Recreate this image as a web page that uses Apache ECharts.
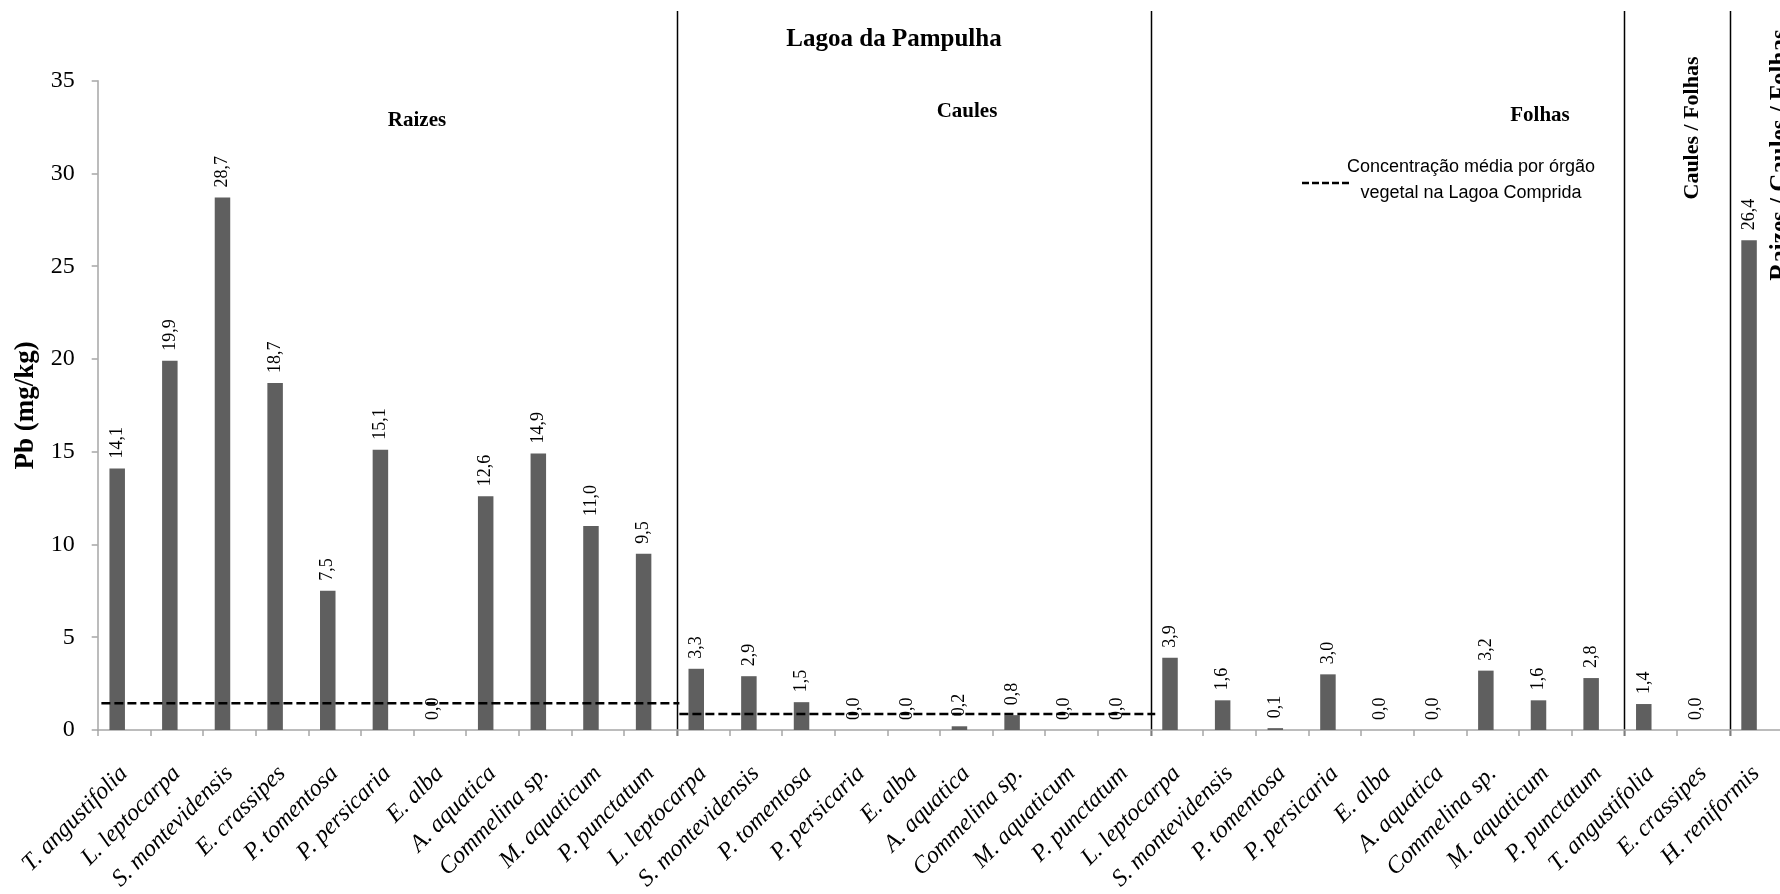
<!DOCTYPE html>
<html>
<head>
<meta charset="utf-8">
<script src="https://cdn.jsdelivr.net/npm/echarts@6/dist/echarts.min.js"></script>
<style>
html,body{margin:0;padding:0;background:#fff;}
#chart{width:1780px;height:894px;}
</style>
</head>
<body>
<div id="chart"></div>
<script>
// ---- data ----
const categories = [
  'T. angustifolia','L. leptocarpa','S. montevidensis','E. crassipes','P. tomentosa','P. persicaria','E. alba','A. aquatica','Commelina sp.','M. aquaticum','P. punctatum',
  'L. leptocarpa','S. montevidensis','P. tomentosa','P. persicaria','E. alba','A. aquatica','Commelina sp.','M. aquaticum','P. punctatum',
  'L. leptocarpa','S. montevidensis','P. tomentosa','P. persicaria','E. alba','A. aquatica','Commelina sp.','M. aquaticum','P. punctatum',
  'T. angustifolia','E. crassipes',
  'H. reniformis'
];
const pbValues = [
  14.1, 19.9, 28.7, 18.7, 7.5, 15.1, 0.0, 12.6, 14.9, 11.0, 9.5,
  3.3, 2.9, 1.5, 0.0, 0.0, 0.2, 0.8, 0.0, 0.0,
  3.9, 1.6, 0.1, 3.0, 0.0, 0.0, 3.2, 1.6, 2.8,
  1.4, 0.0,
  26.4
];
// mean concentration per organ in Lagoa Comprida (dashed lines), x in category-band units
const meanValues = [1.44, 0.86];
const meanFrom = [0.07, 11.05];
const meanTo = [11.05, 20.09];
// group boundaries (band units)
const groupBreaks = [11, 20, 29, 31];
const yTicks = [0, 5, 10, 15, 20, 25, 30, 35];

const serif = "'Liberation Serif','Times New Roman',serif";
const chart = echarts.init(document.getElementById('chart'));

const meanSeries = meanValues.map((v, i) => ({
  type: 'line',
  xAxisIndex: 1,
  yAxisIndex: 0,
  symbol: 'none',
  silent: true,
  animation: false,
  data: [[meanFrom[i], v], [meanTo[i], v]],
  lineStyle: { color: '#000', width: 2.5, type: [9, 4] }
}));

chart.setOption({
  animation: false,
  grid: { left: 97.7, top: 80.7, width: 1684.5, height: 649.3, containLabel: false, outerBoundsMode: 'none' },
  xAxis: [{
    type: 'category',
    data: categories,
    boundaryGap: true,
    axisLine: { lineStyle: { color: '#a6a6a6', width: 1.5 } },
    axisTick: { show: true, length: 6, lineStyle: { color: '#a6a6a6', width: 1.5 } },
    axisLabel: {
      interval: 0, rotate: 45, margin: 40, verticalAlign: 'middle',
      fontFamily: serif, fontStyle: 'italic', fontSize: 24, color: '#000'
    }
  }, {
    type: 'value', min: 0, max: categories.length, show: false
  }],
  yAxis: {
    type: 'value', min: yTicks[0], max: yTicks[yTicks.length - 1], interval: 5,
    name: 'Pb (mg/kg)', nameLocation: 'middle', nameGap: 58,
    nameTextStyle: { fontFamily: serif, fontWeight: 'bold', fontSize: 27, color: '#000' },
    axisLine: { show: true, lineStyle: { color: '#a6a6a6', width: 1.5 } },
    axisTick: { show: true, length: 6, lineStyle: { color: '#a6a6a6', width: 1.5 } },
    splitLine: { show: false },
    axisLabel: { margin: 23, fontFamily: serif, fontSize: 24, color: '#000' }
  },
  series: [{
    type: 'bar',
    data: pbValues,
    barWidth: 15.5,
    barGap: '-12%',
    itemStyle: { color: '#5f5f5f' },
    label: {
      show: true, position: 'top', rotate: 90, align: 'left', verticalAlign: 'middle',
      distance: 10, fontFamily: serif, fontSize: 18, color: '#000',
      formatter: p => p.value.toFixed(1).replace('.', ',')
    }
  }, {
    type: 'bar',
    data: categories.map(() => '-'),
    barWidth: 15.5,
    itemStyle: { color: 'rgba(0,0,0,0)' },
    silent: true
  }].concat(meanSeries)
});

// annotations & group dividers
const g = [];
groupBreaks.forEach(b => {
  const x = Math.round(chart.convertToPixel({ xAxisIndex: 1 }, b)) + 0.5;
  g.push({ type: 'line', silent: true, shape: { x1: x, y1: 11, x2: x, y2: 736 }, style: { stroke: '#000', lineWidth: 1.5 } });
});
function txt(text, x, y, size, rot) {
  return {
    type: 'text', x: x, y: y, rotation: rot || 0, silent: true,
    style: { text: text, x: 0, y: 0, textAlign: 'center', textVerticalAlign: 'middle',
      font: 'bold ' + size + 'px ' + serif, fill: '#000' }
  };
}
g.push(txt('Lagoa da Pampulha', 894, 40, 25));
g.push(txt('Raizes', 417, 121, 21));
g.push(txt('Caules', 967, 112, 21));
g.push(txt('Folhas', 1540, 116, 21));
g.push(txt('Caules / Folhas', 1692, 128, 22, Math.PI / 2));
g.push(txt('Raizes / Caules / Folhas', 1781, 155, 25, Math.PI / 2));
// legend
const legendFont = "18px 'Liberation Sans Narrow','Liberation Sans',sans-serif";
g.push({ type: 'line', silent: true, shape: { x1: 1302, y1: 183, x2: 1349, y2: 183 }, style: { stroke: '#000', lineWidth: 2.5, lineDash: [7, 3] } });
g.push({ type: 'text', silent: true, x: 1471, y: 167, style: { text: 'Concentração média por órgão', x: 0, y: 0, textAlign: 'center', textVerticalAlign: 'middle', font: legendFont, fill: '#000' } });
g.push({ type: 'text', silent: true, x: 1471, y: 193, style: { text: 'vegetal na Lagoa Comprida', x: 0, y: 0, textAlign: 'center', textVerticalAlign: 'middle', font: legendFont, fill: '#000' } });
chart.setOption({ graphic: g });
</script>
</body>
</html>
